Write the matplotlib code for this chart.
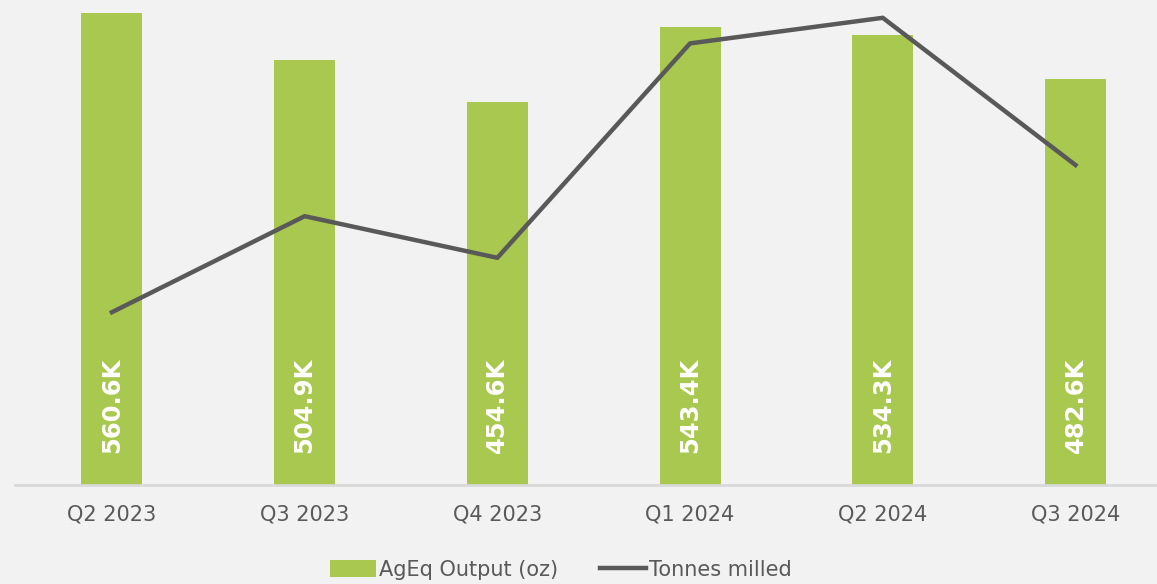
import numpy as np
import matplotlib.pyplot as plt

quarters = ["Q2 2023", "Q3 2023", "Q4 2023", "Q1 2024", "Q2 2024", "Q3 2024"]
ageq_k = [560.6, 504.9, 454.6, 543.4, 534.3, 482.6]
tonnes_k = [204, 234, 221, 288, 296, 250]

bg = "#f2f2f2"
green = "#a9c850"
grey = "#595959"

fig = plt.figure(figsize=(11.57, 5.84), dpi=100, facecolor=bg)
ax = fig.add_axes([15 / 1157, 99 / 584, 1 - 15 / 1157, 480 / 584])
ax.set_facecolor(bg)

x = np.arange(len(quarters))
bars = ax.bar(x, ageq_k, width=0.317, color=green, label="AgEq Output (oz)", zorder=2)
for xi, v in zip(x, ageq_k):
    ax.text(xi, 38, f"{v:.1f}K", rotation=90, ha="center", va="bottom",
            color="white", fontsize=17.5, fontweight="bold", zorder=3)

ax.set_ylim(0, 570)
ax.set_xlim(-0.503, 5.423)
ax.set_yticks([])
ax.set_xticks(x)
ax.set_xticklabels(quarters, fontsize=15, color=grey)
ax.tick_params(axis="x", length=0, pad=14)
for s in ["top", "right", "left"]:
    ax.spines[s].set_visible(False)
ax.spines["bottom"].set_color("#d9d9d9")
ax.spines["bottom"].set_linewidth(2)

ax2 = ax.twinx()
ax2.plot(x, tonnes_k, color=grey, lw=3.2, label="Tonnes milled", zorder=4)
ax2.set_ylim(150, 300)
ax2.set_yticks([])
for s in ax2.spines.values():
    s.set_visible(False)

h1, l1 = ax.get_legend_handles_labels()
h2, l2 = ax2.get_legend_handles_labels()
fig.legend(h1 + h2, l1 + l2, loc="lower center", bbox_to_anchor=(0.485, -0.025),
           ncol=2, frameon=False, fontsize=15, handlelength=2.2, handleheight=0.9,
           handletextpad=0.15, columnspacing=2.0, labelcolor=grey)

fig.savefig("out.png", dpi=100, facecolor=bg)
